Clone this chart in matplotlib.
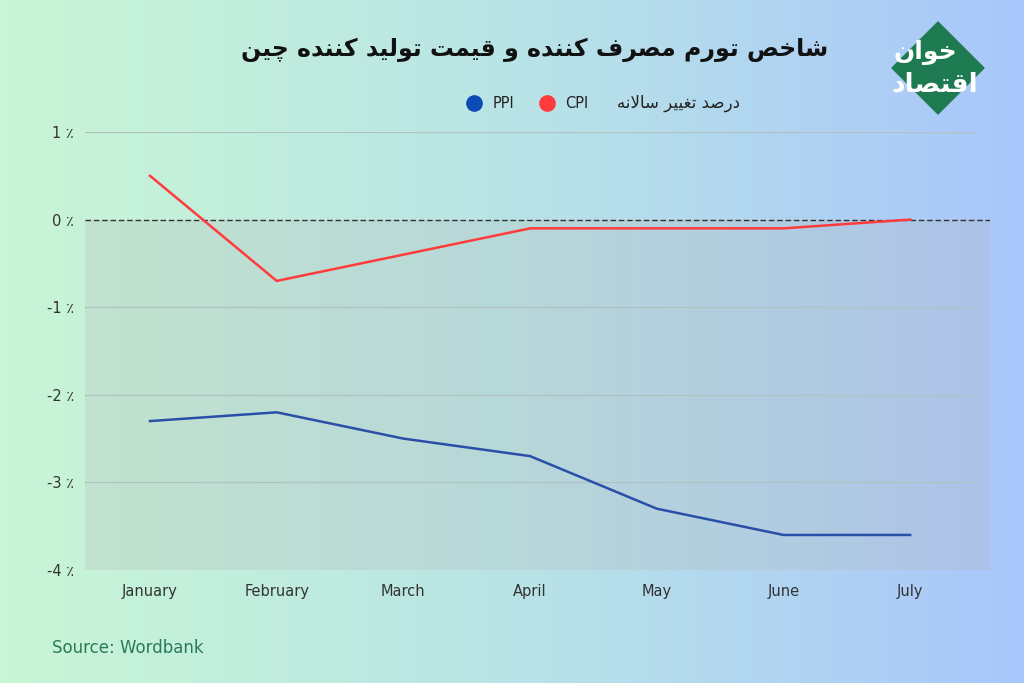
import numpy as np
import matplotlib
matplotlib.use("Agg")
import matplotlib.pyplot as plt
from matplotlib.patches import Polygon
from matplotlib.colors import LinearSegmentedColormap

months = ["January", "February", "March", "April", "May", "June", "July"]
cpi = [0.5, -0.7, -0.4, -0.1, -0.1, -0.1, 0.0]
ppi = [-2.3, -2.2, -2.5, -2.7, -3.3, -3.6, -3.6]
yticks = [1, 0, -1, -2, -3, -4]
title = "شاخص تورم مصرف کننده و قیمت تولید کننده چین"
legend_title = "درصد تغییر سالانه"
logo1 = "خوان"
logo2 = "اقتصاد"

FORMS = {
    'ا': (0xFE8D, 0xFE8E, None, None), 'ب': (0xFE8F, 0xFE90, 0xFE91, 0xFE92),
    'ت': (0xFE95, 0xFE96, 0xFE97, 0xFE98), 'خ': (0xFEA5, 0xFEA6, 0xFEA7, 0xFEA8),
    'د': (0xFEA9, 0xFEAA, None, None), 'ر': (0xFEAD, 0xFEAE, None, None),
    'س': (0xFEB1, 0xFEB2, 0xFEB3, 0xFEB4), 'ش': (0xFEB5, 0xFEB6, 0xFEB7, 0xFEB8),
    'ص': (0xFEB9, 0xFEBA, 0xFEBB, 0xFEBC), 'غ': (0xFECD, 0xFECE, 0xFECF, 0xFED0),
    'ف': (0xFED1, 0xFED2, 0xFED3, 0xFED4), 'ق': (0xFED5, 0xFED6, 0xFED7, 0xFED8),
    'ل': (0xFEDD, 0xFEDE, 0xFEDF, 0xFEE0), 'م': (0xFEE1, 0xFEE2, 0xFEE3, 0xFEE4),
    'ن': (0xFEE5, 0xFEE6, 0xFEE7, 0xFEE8), 'ه': (0xFEE9, 0xFEEA, 0xFEEB, 0xFEEC),
    'و': (0xFEED, 0xFEEE, None, None), 'ی': (0xFBFC, 0xFBFD, 0xFBFE, 0xFBFF),
    'ک': (0xFB8E, 0xFB8F, 0xFB90, 0xFB91), 'چ': (0xFB7A, 0xFB7B, 0xFB7C, 0xFB7D),
}

def shape(s):
    out = []
    chars = list(s)
    i = 0
    n = len(chars)
    def joins_next(c):
        return c in FORMS and FORMS[c][2] is not None
    while i < n:
        c = chars[i]
        prev = chars[i-1] if i > 0 else ' '
        pj = joins_next(prev) if i > 0 else False
        if c == 'ل' and i + 1 < n and chars[i+1] == 'ا':
            out.append(chr(0xFEFC if pj else 0xFEFB))
            i += 2
            continue
        if c not in FORMS:
            out.append(c); i += 1; continue
        nxt = chars[i+1] if i + 1 < n else ' '
        nj = nxt in FORMS and joins_next(c)
        f = FORMS[c]
        if pj and nj:
            g = f[3]
        elif pj:
            g = f[1]
        elif nj:
            g = f[2]
        else:
            g = f[0]
        out.append(chr(g)); i += 1
    return ''.join(out)[::-1]

fig = plt.figure(figsize=(10.24, 6.83), dpi=100)
bg = fig.add_axes([0, 0, 1, 1], zorder=-10)
grad = np.linspace(0, 1, 256)[None, :]
cm = LinearSegmentedColormap.from_list("g", ["#c9f6d6", "#b9e4e6", "#a9c6fb"])
bg.imshow(grad, aspect='auto', cmap=cm, extent=[0, 1, 0, 1])
bg.axis('off')

W, H = 1024, 683
ax = fig.add_axes([85/W, 1-570/H, (990-85)/W, (570-132)/H])
ax.patch.set_alpha(0)
x = np.arange(len(months))
ax.set_xlim(-0.513, 6.63)
ax.set_ylim(-4, 1)
ax.axhspan(-4, 0, color="#b5b5b5", alpha=0.25, lw=0, zorder=0)
for t in [1, -1, -2, -3]:
    ax.plot([-0.513, 6.5], [t, t], color="#b0c2c2", lw=0.9, zorder=1)
ax.axhline(0, color="#333333", lw=1, ls=(0, (4, 2)), zorder=2)
ax.plot(x, cpi, color="#ff3b3b", lw=1.8, zorder=3)
ax.plot(x, ppi, color="#2a4fa8", lw=1.8, zorder=3)
ax.set_yticks(yticks)
ax.set_yticklabels([f"{t} ٪" for t in yticks], fontsize=10.5, color="#333333")
ax.set_xticks(x)
ax.set_xticklabels(months, fontsize=10.5, color="#333333")
ax.tick_params(length=0, pad=10)
ax.tick_params(axis='y', pad=8)
for s in ax.spines.values():
    s.set_visible(False)

fig.text(535/W, 1-50/H, shape(title), ha='center', va='center', fontsize=17,
         fontweight='bold', color='#111111')
fig.text(740/W, 1-103/H, shape(legend_title), ha='right', va='center', fontsize=12, color='#222222')
fig.text(588/W, 1-103/H, "CPI", ha='right', va='center', fontsize=10.5, color='#222222')
fig.text(514/W, 1-103/H, "PPI", ha='right', va='center', fontsize=10.5, color='#222222')
bg.plot([547/W], [1-103/H], 'o', ms=11, color='#ff3b3b')
bg.plot([474/W], [1-103/H], 'o', ms=11, color='#0b4bb5')
bg.set_xlim(0, 1); bg.set_ylim(0, 1)

fig.text(52/W, 1-648/H, "Source: Wordbank", ha='left', va='center', fontsize=12, color='#2a7a5a')

cx, cy = 938, 68
d = 46
poly = Polygon([(cx/W, 1-(cy-d)/H), ((cx+d)/W, 1-cy/H), (cx/W, 1-(cy+d)/H), ((cx-d)/W, 1-cy/H)],
               closed=True, color='#1e7a50', transform=fig.transFigure)
bg.add_patch(poly)
fig.text(925/W, 1-52/H, shape(logo1), ha='center', va='center', fontsize=18, fontweight='bold', color='white')
fig.text(935/W, 1-85/H, shape(logo2), ha='center', va='center', fontsize=19, fontweight='bold', color='white')

fig.savefig("out.png", dpi=100)
